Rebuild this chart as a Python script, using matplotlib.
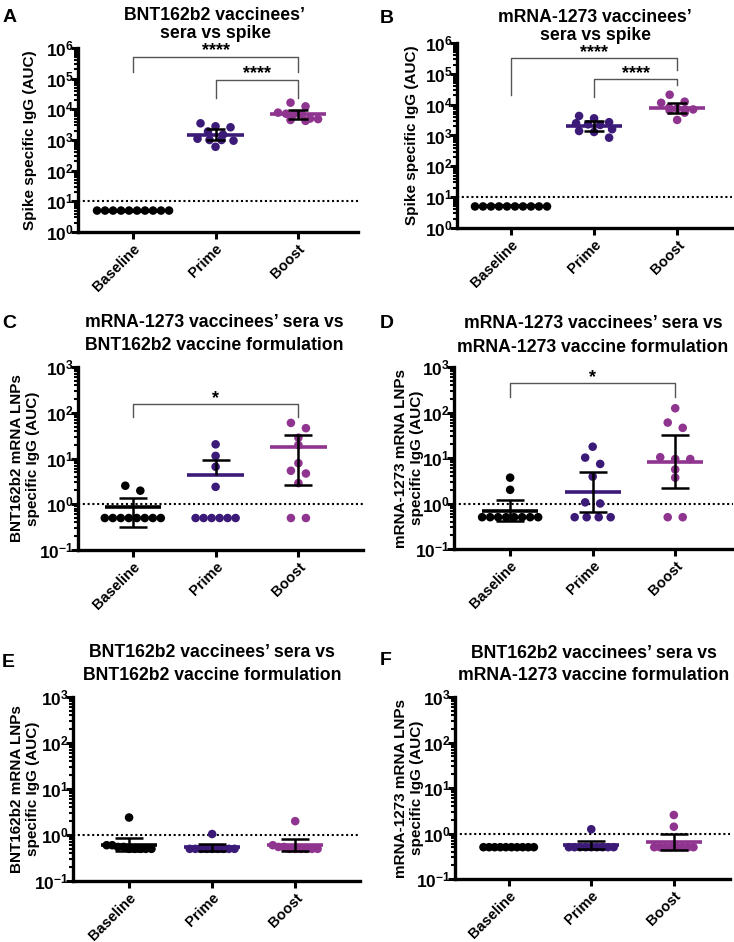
import numpy as np
import matplotlib
matplotlib.use('Agg')
import matplotlib.pyplot as plt
from matplotlib.ticker import LogLocator, FuncFormatter, NullFormatter

plt.rcParams['font.family'] = ['Liberation Sans', 'DejaVu Sans']
plt.rcParams['font.weight'] = 'bold'
plt.rcParams['mathtext.fontset'] = 'custom'
plt.rcParams['mathtext.bf'] = 'Liberation Sans:bold'
plt.rcParams['mathtext.rm'] = 'Liberation Sans:bold'
plt.rcParams['mathtext.default'] = 'bf'

groups = ['Baseline', 'Prime', 'Boost']
group_colors = ['#000000', '#3c1a78', '#8f3590']

# ---- data (AUC values) ----
a_baseline = [5, 5, 5, 5, 5, 5, 5, 5, 5, 5]
a_prime = [3500, 2800, 2600, 1900, 1500, 1100, 1000, 950, 1000, 600]
a_boost = [16500, 12500, 7800, 7200, 7000, 6800, 5000, 4800, 4500, 4200]

b_baseline = [5, 5, 5, 5, 5, 5, 5, 5, 5, 5]
b_prime = [4300, 3600, 2700, 2500, 2300, 2200, 1600, 1400, 1300, 850]
b_boost = [21000, 12500, 11500, 8000, 7500, 7000, 7000, 6500, 5500, 3200]

c_baseline = [2.54, 1.98, 0.5, 0.5, 0.5, 0.5, 0.5, 0.5, 0.5, 0.5]
c_prime = [20.4, 11.4, 6.6, 2.4, 0.5, 0.5, 0.5, 0.5, 0.5, 0.5]
c_boost = [60, 46, 28.5, 19.7, 7.9, 5.4, 4.7, 2.9, 0.5, 0.5]

d_baseline = [3.7, 2.0, 0.5, 0.5, 0.5, 0.5, 0.5, 0.5, 0.5, 0.5]
d_prime = [17.7, 10.2, 7.4, 3.9, 1.06, 1.0, 0.5, 0.5, 0.5, 0.5]
d_boost = [124, 60, 46, 10.4, 9.5, 9.5, 5.6, 3.7, 0.5, 0.5]

e_baseline = [2.4, 0.6, 0.6, 0.55, 0.55, 0.5, 0.5, 0.5, 0.5, 0.5]
e_prime = [1.05, 0.5, 0.5, 0.5, 0.5, 0.5, 0.5, 0.5, 0.5, 0.5]
e_boost = [2.0, 0.6, 0.55, 0.55, 0.5, 0.5, 0.5, 0.5, 0.5, 0.5]

f_baseline = [0.5, 0.5, 0.5, 0.5, 0.5, 0.5, 0.5, 0.5, 0.5, 0.5]
f_prime = [1.24, 0.5, 0.5, 0.5, 0.5, 0.5, 0.5, 0.5, 0.5, 0.5]
f_boost = [2.55, 1.41, 0.5, 0.5, 0.5, 0.5, 0.5, 0.5, 0.5, 0.5]

# significance brackets: (group i, group j, bracket level, leg end i, leg end j, label)
a_sig = [(0, 2, 5.2e5, 1.7e5, 1.7e5, '****'), (1, 2, 9.1e4, 2.3e4, 2.3e4, '****')]
b_sig = [(0, 2, 3.2e5, 2.0e4, 1.3e5, '****'), (1, 2, 6.7e4, 1.8e4, 4.4e4, '****')]
c_sig = [(0, 2, 155, 82, 82, '*')]
d_sig = [(0, 2, 438, 223, 223, '*')]

T975 = 2.262  # t(0.975, df=9)

W, H = 734, 942
fig = plt.figure(figsize=(W / 100, H / 100), dpi=100)


def rect(x0, x1, ytop, ybot):
    return [x0 / W, 1 - ybot / H, (x1 - x0) / W, (ybot - ytop) / H]


def summary(vals, stat):
    v = np.asarray(vals, float)
    if stat == 'geo':
        lv = np.log10(v)
        m = lv.mean()
        h = T975 * lv.std(ddof=1) / np.sqrt(len(lv))
        return 10 ** m, 10 ** (m - h), 10 ** (m + h)
    m = v.mean()
    h = T975 * v.std(ddof=1) / np.sqrt(len(v))
    return m, m - h, m + h


def swarm(ax, vals, cap):
    v = np.asarray(vals, float)
    ypix = ax.transData.transform(np.column_stack([np.zeros_like(v), v]))[:, 1]
    order = np.argsort(-ypix, kind='stable')
    rows = []
    for idx in order:
        if rows and ypix[rows[-1][0]] - ypix[idx] < 7:
            rows[-1].append(idx)
        else:
            rows.append([idx])
    offs = np.zeros(len(v))
    for r in rows:
        n = len(r)
        sp = {1: 0, 2: 15, 3: 15, 4: 12}.get(n, 8.0)
        sp = min(sp, cap)
        for k, idx in enumerate(r):
            offs[idx] = (k - (n - 1) / 2) * sp
    x0, x1 = ax.get_xlim()
    ppu = ax.bbox.width / (x1 - x0)
    return offs / ppu


panels = [
    dict(letter='A', lxy=(3, 21.5), data=(a_baseline, a_prime, a_boost), stat='geo',
         rect=rect(78, 358, 48, 232), xlim=(-0.667, 2.727), ylim=(1, 1e6), lod=10,
         title=('BNT162b2 vaccinees\u2019', 'sera vs spike'), tx=215, ty=(20.5, 37.5),
         ylabel='Spike specific IgG (AUC)', ylx=30, sig=a_sig, cap=99, ecap=0.12),
    dict(letter='B', lxy=(380, 23), data=(b_baseline, b_prime, b_boost), stat='geo',
         rect=rect(457, 732, 43, 228), xlim=(-0.65, 2.66), ylim=(1, 1e6), lod=10,
         title=('mRNA-1273 vaccinees\u2019', 'sera vs spike'), tx=595, ty=(22.5, 39.5),
         ylabel='Spike specific IgG (AUC)', ylx=412, sig=b_sig, cap=99, ecap=0.12),
    dict(letter='C', lxy=(2, 328), data=(c_baseline, c_prime, c_boost), stat='arith',
         rect=rect(78, 363, 367, 550), xlim=(-0.662, 2.78), ylim=(0.1, 1000), lod=1,
         title=('mRNA-1273 vaccinees\u2019 sera vs', 'BNT162b2 vaccine formulation'), tx=214, ty=(327, 350.5),
         ylabel='BNT162b2 mRNA LNPs\nspecific IgG (AUC)', ylx=25, sig=c_sig, cap=99, ecap=0.17),
    dict(letter='D', lxy=(380, 328), data=(d_baseline, d_prime, d_boost), stat='geo',
         rect=rect(454, 733, 367, 549), xlim=(-0.68, 2.70), ylim=(0.1, 1000), lod=1,
         title=('mRNA-1273 vaccinees\u2019 sera vs', 'mRNA-1273 vaccine formulation'), tx=593, ty=(328, 351.5),
         ylabel='mRNA-1273 mRNA LNPs\nspecific IgG (AUC)', ylx=409, sig=d_sig, cap=99, ecap=0.17),
    dict(letter='E', lxy=(2, 667), data=(e_baseline, e_prime, e_boost), stat='geo',
         rect=rect(73, 360, 697, 881), xlim=(-0.675, 2.78), ylim=(0.1, 1000), lod=1,
         title=('BNT162b2 vaccinees\u2019 sera vs', 'BNT162b2 vaccine formulation'), tx=212, ty=(657, 680),
         ylabel='BNT162b2 mRNA LNPs\nspecific IgG (AUC)', ylx=25, sig=[], cap=5.6, ecap=0.17),
    dict(letter='F', lxy=(380, 665), data=(f_baseline, f_prime, f_boost), stat='geo',
         rect=rect(455, 730, 697, 879), xlim=(-0.65, 2.68), ylim=(0.1, 1000), lod=1,
         title=('BNT162b2 vaccinees\u2019 sera vs', 'mRNA-1273 vaccine formulation'), tx=594, ty=(658, 680),
         ylabel='mRNA-1273 mRNA LNPs\nspecific IgG (AUC)', ylx=409, sig=[], cap=5.6, ecap=0.17),
]


def fmt(v, pos):
    e = int(round(np.log10(v)))
    return r'$\mathbf{10^{%d}}$' % e


for p in panels:
    ax = fig.add_axes(p['rect'])
    ax.set_yscale('log')
    ax.set_xlim(*p['xlim'])
    ax.set_ylim(*p['ylim'])
    for s in ('top', 'right'):
        ax.spines[s].set_visible(False)
    for s in ('left', 'bottom'):
        ax.spines[s].set_linewidth(2.4)
    ax.yaxis.set_major_locator(LogLocator(base=10, numticks=20))
    ax.yaxis.set_minor_locator(LogLocator(base=10, subs=np.arange(2, 10), numticks=50))
    ax.yaxis.set_major_formatter(FuncFormatter(fmt))
    ax.yaxis.set_minor_formatter(NullFormatter())
    ax.tick_params(axis='y', which='major', length=5, width=2.2, pad=-2.0, labelsize=12.5)
    ax.tick_params(axis='y', which='minor', length=3, width=1.5)
    ax.set_xticks(range(len(groups)))
    ax.set_xticklabels(groups, rotation=45, ha='right', rotation_mode='anchor',
                       fontsize=10.5, fontweight='bold')
    ax.tick_params(axis='x', which='major', length=5, width=2.2, pad=2)

    ax.axhline(p['lod'], color='black', lw=1.5, ls=(0, (1, 1.3)), zorder=1)

    for i, (vals, col) in enumerate(zip(p['data'], group_colors)):
        offs = swarm(ax, vals, p['cap'])
        ax.scatter(i + offs, vals, s=38, color=col, edgecolors='none', zorder=3, clip_on=False)
        m, lo, hi = summary(vals, p['stat'])
        ax.hlines(m, i - 0.34, i + 0.34, color=col, lw=2.6, zorder=4)
        if lo > 0:
            ax.vlines(i, lo, hi, color='black', lw=1.8, zorder=5)
            ax.hlines(lo, i - p['ecap'], i + p['ecap'], color='black', lw=1.8, zorder=5)
        else:
            ax.vlines(i, m, hi, color='black', lw=1.8, zorder=5)
        ax.hlines(hi, i - p['ecap'], i + p['ecap'], color='black', lw=1.8, zorder=5)

    for (i, j, lvl, l1, l2, txt) in p['sig']:
        ax.plot([i, i, j, j], [l1, lvl, lvl, l2], color='#555555', lw=1.0, clip_on=False, zorder=2)
        ax.annotate(txt, xy=((i + j) / 2, lvl), xytext=(0, 1), textcoords='offset points',
                    ha='center', va='baseline', fontsize=13, fontweight='bold', annotation_clip=False)

    ax.set_ylabel(p['ylabel'], fontsize=11, fontweight='bold', linespacing=1.15)
    x0px = p['rect'][0] * W
    wpx = p['rect'][2] * W
    ax.yaxis.set_label_coords((p['ylx'] - x0px) / wpx, 0.5)
    ax.yaxis.label.set_verticalalignment('center')

    for line, yb in zip(p['title'], p['ty']):
        fig.text(p['tx'] / W, 1 - yb / H, line, ha='center', va='baseline',
                 fontsize=12.7, fontweight='bold')
    fig.text(p['lxy'][0] / W, 1 - p['lxy'][1] / H, p['letter'], ha='left', va='baseline',
             fontsize=14, fontweight='bold')

fig.savefig('out.png', dpi=100)
